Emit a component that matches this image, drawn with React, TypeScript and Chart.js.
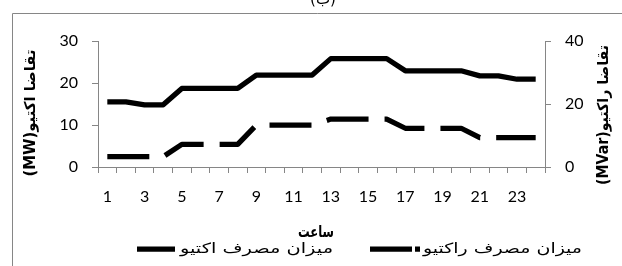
import React, { useEffect, useRef } from 'react';
import { Chart, registerables } from 'chart.js';

Chart.register(...registerables);

// ---- data ----
const HOURS = ['1', '2', '3', '4', '5', '6', '7', '8', '9', '10', '11', '12', '13', '14', '15', '16', '17', '18', '19', '20', '21', '22', '23', '24'];
const ACTIVE = [15.5, 15.5, 14.8, 14.8, 18.7, 18.7, 18.7, 18.7, 21.9, 21.9, 21.9, 21.9, 25.8, 25.8, 25.8, 25.8, 22.9, 22.9, 22.9, 22.9, 21.7, 21.7, 20.9, 20.9];
const REACTIVE = [3.3, 3.3, 3.3, 3.3, 7.2, 7.2, 7.2, 7.2, 13.3, 13.3, 13.3, 13.3, 15.2, 15.2, 15.2, 15.2, 12.3, 12.3, 12.3, 12.3, 9.3, 9.3, 9.3, 9.3];
const LEFT_AXIS = { min: 0, max: 30, step: 10 };
const RIGHT_AXIS = { min: 0, max: 40, step: 20 };

const ACTIVE_LABEL = 'میزان مصرف اکتیو';
const REACTIVE_LABEL = 'میزان مصرف راکتیو';
const X_TITLE = 'ساعت';
const LEFT_TITLE = '(MW)تقاضا اکتیو';
const RIGHT_TITLE = '(MVar)تقاضا راکتیو';
const CHART_TITLE = '(ب)';

const AXIS_COLOR = '#868686';
const TEXT_COLOR = '#000000';
const NUM_FONT = 'Lato, "DejaVu Sans", sans-serif';
const FA_FONT = '"DejaVu Sans", sans-serif';

// draw text stretched horizontally (along its baseline) to a target width
function drawFitted(
  ctx: CanvasRenderingContext2D,
  text: string,
  x: number,
  y: number,
  rotation: number,
  align: CanvasTextAlign,
  font: string,
  target: number
) {
  ctx.save();
  ctx.font = font;
  const w = ctx.measureText(text).width;
  const sx = w > 0 ? target / w : 1;
  ctx.translate(x, y);
  ctx.rotate(rotation);
  ctx.scale(sx, 1);
  ctx.textAlign = align;
  ctx.textBaseline = 'middle';
  ctx.fillText(text, 0, 0);
  ctx.restore();
}

const decor = {
  id: 'decor',
  beforeDraw(chart: any) {
    const ctx: CanvasRenderingContext2D = chart.ctx;
    ctx.save();
    ctx.fillStyle = '#ffffff';
    ctx.fillRect(0, 0, chart.width, chart.height);
    ctx.strokeStyle = AXIS_COLOR;
    ctx.lineWidth = 1;
    ctx.beginPath();
    ctx.moveTo(12.5, chart.height);
    ctx.lineTo(12.5, 13.5);
    ctx.lineTo(chart.width, 13.5);
    ctx.stroke();
    ctx.fillStyle = TEXT_COLOR;
    ctx.font = `15px ${FA_FONT}`;
    ctx.textAlign = 'center';
    ctx.textBaseline = 'alphabetic';
    ctx.fillText(CHART_TITLE, 323, 4);
    ctx.restore();
  },
  afterDraw(chart: any) {
    const ctx: CanvasRenderingContext2D = chart.ctx;
    const ds = chart.data.datasets;
    ctx.save();
    ctx.fillStyle = TEXT_COLOR;

    // axis titles
    drawFitted(ctx, LEFT_TITLE, 31, 113, -Math.PI / 2, 'center', `bold 15px ${FA_FONT}`, 127);
    drawFitted(ctx, RIGHT_TITLE, 604, 115, -Math.PI / 2, 'center', `bold 15px ${FA_FONT}`, 140);
    drawFitted(ctx, X_TITLE, 316, 233, 0, 'center', `bold 16px ${FA_FONT}`, 36);

    // legend
    const ly = 249;
    ctx.lineCap = 'butt';
    ctx.strokeStyle = ds[0].borderColor;
    ctx.lineWidth = ds[0].borderWidth;
    ctx.setLineDash([]);
    ctx.beginPath();
    ctx.moveTo(137, ly);
    ctx.lineTo(175, ly);
    ctx.stroke();
    drawFitted(ctx, ACTIVE_LABEL, 180, ly, 0, 'left', `14px ${FA_FONT}`, 153);

    ctx.strokeStyle = ds[1].borderColor;
    ctx.lineWidth = ds[1].borderWidth;
    ctx.setLineDash([42, 3]);
    ctx.beginPath();
    ctx.moveTo(370, ly);
    ctx.lineTo(420, ly);
    ctx.stroke();
    ctx.setLineDash([]);
    drawFitted(ctx, REACTIVE_LABEL, 423, ly, 0, 'left', `14px ${FA_FONT}`, 159);
    ctx.restore();
  },
};

export default function App() {
  const ref = useRef<HTMLCanvasElement>(null);

  useEffect(() => {
    const canvas = ref.current;
    if (!canvas) return;
    const tickFont = { family: NUM_FONT, size: 16 };
    const chart = new Chart(canvas, {
      type: 'line',
      data: {
        labels: HOURS,
        datasets: [
          {
            label: ACTIVE_LABEL,
            data: ACTIVE,
            yAxisID: 'y',
            borderColor: '#000000',
            backgroundColor: '#000000',
            borderWidth: 5.25,
            borderJoinStyle: 'round',
            borderCapStyle: 'butt',
            pointRadius: 0,
            tension: 0,
            fill: false,
          },
          {
            label: REACTIVE_LABEL,
            data: REACTIVE,
            yAxisID: 'y1',
            borderColor: '#000000',
            backgroundColor: '#000000',
            borderWidth: 5.25,
            borderDash: [42, 16],
            borderJoinStyle: 'round',
            borderCapStyle: 'butt',
            pointRadius: 0,
            tension: 0,
            fill: false,
          },
        ],
      },
      options: {
        responsive: false,
        animation: false,
        devicePixelRatio: 1,
        layout: { padding: { top: 41, left: 0, right: 0, bottom: 0 } },
        plugins: {
          legend: { display: false },
          title: { display: false },
          tooltip: { enabled: false },
        },
        scales: {
          x: {
            type: 'category',
            offset: true,
            grid: { offset: true, drawOnChartArea: false, drawTicks: true, tickLength: 6, color: AXIS_COLOR },
            border: { color: AXIS_COLOR, width: 1 },
            ticks: {
              autoSkip: false,
              maxRotation: 0,
              minRotation: 0,
              padding: 14,
              color: TEXT_COLOR,
              font: tickFont,
              callback: (_v: any, i: number) => (i % 2 === 0 ? HOURS[i] : ''),
            },
            afterFit: (s: any) => {
              s.height = 99;
            },
          },
          y: {
            position: 'left',
            min: LEFT_AXIS.min,
            max: LEFT_AXIS.max,
            grid: { drawOnChartArea: false, drawTicks: true, tickLength: 6, color: AXIS_COLOR },
            border: { color: AXIS_COLOR, width: 1 },
            ticks: { stepSize: LEFT_AXIS.step, padding: 14, color: TEXT_COLOR, font: tickFont },
            afterFit: (s: any) => {
              s.width = 98;
            },
          },
          y1: {
            position: 'right',
            min: RIGHT_AXIS.min,
            max: RIGHT_AXIS.max,
            grid: { drawOnChartArea: false, drawTicks: true, tickLength: 6, color: AXIS_COLOR },
            border: { color: AXIS_COLOR, width: 1 },
            ticks: { stepSize: RIGHT_AXIS.step, padding: 14, color: TEXT_COLOR, font: tickFont },
            afterFit: (s: any) => {
              s.width = 77;
            },
          },
        },
      } as any,
      plugins: [decor],
    });
    return () => chart.destroy();
  }, []);

  return (
    <div style={{ position: 'fixed', left: 0, top: 0, width: 622, height: 266, background: '#ffffff' }}>
      <canvas ref={ref} width={622} height={266} style={{ display: 'block', width: 622, height: 266 }} />
    </div>
  );
}
